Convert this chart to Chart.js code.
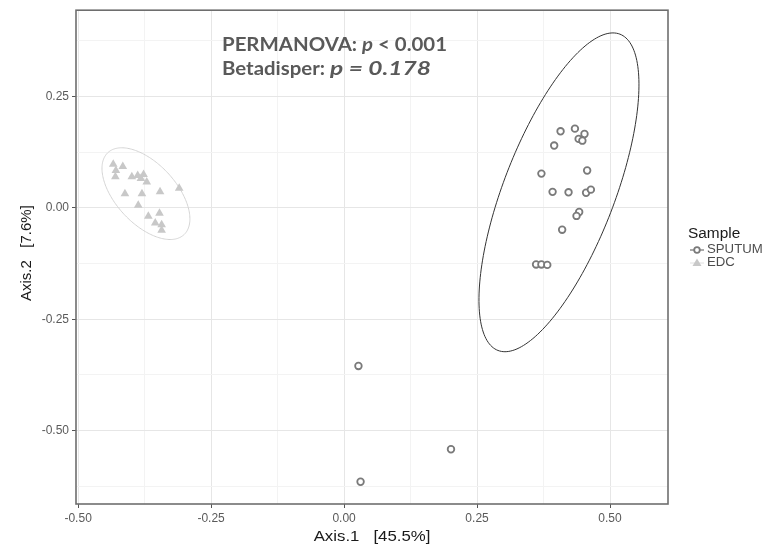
<!DOCTYPE html>
<html>
<head>
<meta charset="utf-8">
<script src="https://cdn.jsdelivr.net/npm/chart.js@4/dist/chart.umd.min.js"></script>
<style>
  html, body { margin: 0; padding: 0; background: #fff; }
  #wrap { position: relative; width: 781px; height: 554px; }
</style>
</head>
<body>
<div id="wrap"><canvas id="c" width="781" height="554"></canvas></div>
<script>
// PCoA scores
var sputumX = [0.407, 0.434, 0.452, 0.441, 0.448, 0.395, 0.371, 0.457, 0.392, 0.422, 0.455, 0.464,
               0.442, 0.437, 0.410, 0.361, 0.371, 0.382, 0.031, 0.201, 0.027];
var sputumY = [0.172, 0.178, 0.166, 0.155, 0.151, 0.140, 0.077, 0.084, 0.036, 0.035, 0.034, 0.041,
               -0.009, -0.018, -0.049, -0.127, -0.127, -0.128, -0.615, -0.542, -0.355];
var edcX = [-0.434, -0.416, -0.429, -0.430, -0.399, -0.388, -0.377, -0.382, -0.371, -0.412,
            -0.380, -0.346, -0.310, -0.387, -0.368, -0.347, -0.355, -0.343, -0.343];
var edcY = [0.098, 0.093, 0.084, 0.070, 0.070, 0.073, 0.075, 0.066, 0.058, 0.032,
            0.032, 0.036, 0.044, 0.006, -0.019, -0.012, -0.034, -0.038, -0.050];

var seriesNames = ['SPUTUM', 'EDC'];
var xTickValues = [-0.5, -0.25, 0, 0.25, 0.5];
var yTickValues = [-0.5, -0.25, 0, 0.25];
var xTitle = 'Axis.1   [45.5%]';
var yTitle = 'Axis.2   [7.6%]';
var legendTitle = 'Sample';
var noteLines = [
    [['PERMANOVA: ', false], ['p', true], [' < 0.001', false]],
    [['Betadisper: ', false], ['p = 0.178', true]]
];

// ellipses: centre, top point offset and horizontal half chord (data units)
var sputumEllipse = { cx: 0.404, cy: 0.035, ux: 0.1015, uy: 0.358, vx: 0.111, vy: 0 };
var edcEllipse = { cx: -0.3725, cy: 0.032, ux: -0.0455, uy: 0.103, vx: 0.069, vy: 0 };

function toPoints(xs, ys) {
    return xs.map(function(x, i) { return { x: x, y: ys[i] }; });
}

function isMajor(v, list) {
    return list.some(function(t) { return Math.abs(t - v) < 1e-6; });
}

var font = "'Liberation Sans', Arial, sans-serif";

// text drawn a little wider than the font, like the stretched original
function wideText(ctx, text, x, y, stretch) {
    ctx.save();
    ctx.translate(x, y);
    ctx.scale(stretch, 1);
    ctx.fillText(text, 0, 0);
    ctx.restore();
}

var panelPlugin = {
    id: 'panel',
    beforeDatasetsDraw: function(chart) {
        var ctx = chart.ctx, xs = chart.scales.x, ys = chart.scales.y;
        function drawEllipse(e, color, width) {
            ctx.save();
            ctx.beginPath();
            for (var i = 0; i <= 200; i++) {
                var t = i / 200 * Math.PI * 2;
                var px = xs.getPixelForValue(e.cx + e.ux * Math.cos(t) + e.vx * Math.sin(t));
                var py = ys.getPixelForValue(e.cy + e.uy * Math.cos(t) + e.vy * Math.sin(t));
                if (i === 0) ctx.moveTo(px, py); else ctx.lineTo(px, py);
            }
            ctx.strokeStyle = color;
            ctx.lineWidth = width;
            ctx.stroke();
            ctx.restore();
        }
        drawEllipse(sputumEllipse, '#333333', 1);
        drawEllipse(edcEllipse, '#d4d4d4', 1);
    },
    afterDraw: function(chart) {
        var ctx = chart.ctx, a = chart.chartArea;
        ctx.save();
        // panel border
        ctx.strokeStyle = '#6e6e6e';
        ctx.lineWidth = 1.6;
        ctx.strokeRect(a.left, a.top, a.right - a.left, a.bottom - a.top);

        // axis titles
        ctx.fillStyle = '#1a1a1a';
        ctx.font = '15px ' + font;
        ctx.textBaseline = 'middle';
        ctx.textAlign = 'left';
        var w = ctx.measureText(xTitle).width * 1.12;
        wideText(ctx, xTitle, (a.left + a.right) / 2 - w / 2, 537, 1.12);
        ctx.save();
        ctx.translate(27, (a.top + a.bottom) / 2 - 4);
        ctx.rotate(-Math.PI / 2);
        ctx.textAlign = 'center';
        ctx.fillText(yTitle, 0, 0);
        ctx.restore();

        // legend
        ctx.font = '14px ' + font;
        ctx.textAlign = 'left';
        wideText(ctx, legendTitle, 688, 234, 1.1);
        ctx.font = '12px ' + font;
        ctx.fillStyle = '#4d4d4d';
        wideText(ctx, seriesNames[0], 707, 250, 1.1);
        wideText(ctx, seriesNames[1], 707, 263, 1.1);
        ctx.strokeStyle = '#555555';
        ctx.lineWidth = 1;
        ctx.beginPath(); ctx.moveTo(690, 250); ctx.lineTo(704, 250); ctx.stroke();
        ctx.lineWidth = 1.8;
        ctx.strokeStyle = '#7a7a7a';
        ctx.fillStyle = '#ffffff';
        ctx.beginPath(); ctx.arc(697, 250, 2.8, 0, Math.PI * 2); ctx.fill(); ctx.stroke();
        ctx.strokeStyle = '#e0e0e0';
        ctx.lineWidth = 1;
        ctx.beginPath(); ctx.moveTo(690, 263); ctx.lineTo(704, 263); ctx.stroke();
        ctx.fillStyle = '#c8c8c8';
        ctx.beginPath(); ctx.moveTo(697, 258.5); ctx.lineTo(701.5, 266); ctx.lineTo(692.5, 266); ctx.closePath(); ctx.fill();

        // statistics note, stretched to the width of the original
        ctx.fillStyle = '#595959';
        ctx.textBaseline = 'middle';
        var noteFont = function(it) { return (it ? 'italic ' : '') + 'bold 18px Lato, sans-serif'; };
        var widths = noteLines.map(function(line) {
            return line.map(function(part) {
                ctx.font = noteFont(part[1]);
                return ctx.measureText(part[0]).width;
            });
        });
        var base = 225 / widths[0].reduce(function(s, v) { return s + v; }, 0);
        var targets = [225, 209];
        var rows = [45, 69];
        noteLines.forEach(function(line, li) {
            var x = 222, last = line.length - 1;
            var head = widths[li].slice(0, last).reduce(function(s, v) { return s + v; }, 0) * base;
            line.forEach(function(part, pi) {
                var k = pi === last ? (targets[li] - head) / widths[li][pi] : base;
                ctx.font = noteFont(part[1]);
                wideText(ctx, part[0], x, rows[li], k);
                x += widths[li][pi] * k;
            });
        });
        ctx.restore();
    }
};

function axisOptions(min, max, majors) {
    return {
        type: 'linear',
        min: min,
        max: max,
        border: { display: false },
        grid: {
            color: function(c) { return isMajor(c.tick.value, majors) ? '#e6e6e6' : '#f3f3f3'; },
            tickColor: function(c) { return isMajor(c.tick.value, majors) ? '#555555' : 'rgba(0,0,0,0)'; },
            tickLength: 4,
            lineWidth: 1
        },
        ticks: {
            stepSize: 0.125,
            includeBounds: false,
            autoSkip: false,
            maxRotation: 0,
            padding: 3,
            color: '#5a5a5a',
            font: { family: font, size: 12 },
            callback: function(v) { return isMajor(v, majors) ? v.toFixed(2) : ''; }
        }
    };
}

var xAxis = axisOptions(-0.504, 0.609, xTickValues);
xAxis.afterFit = function(s) { s.height = 50; };
var yAxis = axisOptions(-0.665, 0.444, yTickValues);
yAxis.afterFit = function(s) { s.width = 76; };

new Chart(document.getElementById('c'), {
    type: 'scatter',
    data: {
        datasets: [{
            label: seriesNames[0],
            data: toPoints(sputumX, sputumY),
            pointStyle: 'circle',
            pointRadius: 3.3,
            borderWidth: 1.8,
            borderColor: '#7a7a7a',
            backgroundColor: '#ffffff'
        }, {
            label: seriesNames[1],
            data: toPoints(edcX, edcY),
            pointStyle: 'triangle',
            pointRadius: 5,
            borderWidth: 0,
            borderColor: '#c8c8c8',
            backgroundColor: '#c8c8c8'
        }]
    },
    options: {
        responsive: false,
        animation: false,
        layout: { padding: { left: 0, top: 5, right: 113, bottom: 0 } },
        plugins: { legend: { display: false }, tooltip: { enabled: false } },
        scales: { x: xAxis, y: yAxis }
    },
    plugins: [panelPlugin]
});
</script>
</body>
</html>
